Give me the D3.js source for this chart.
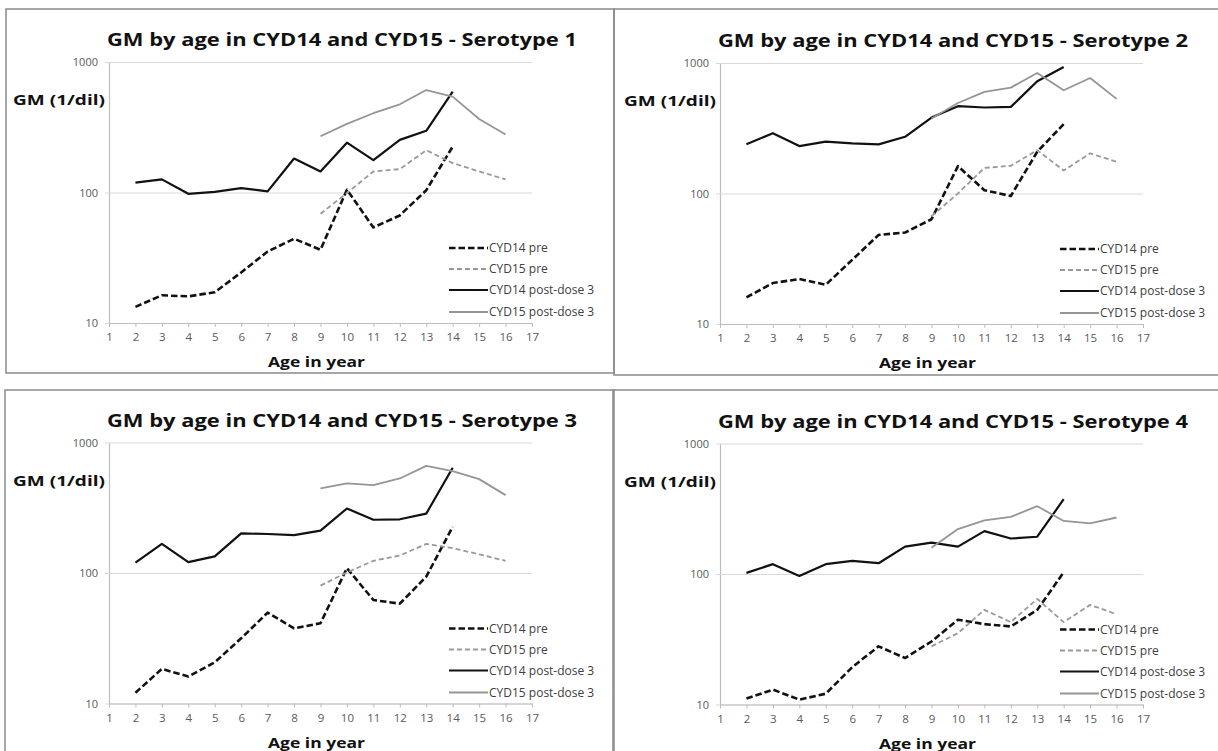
<!DOCTYPE html>
<html>
<head>
<meta charset="utf-8">
<script src="https://cdn.jsdelivr.net/npm/d3@7/dist/d3.min.js"></script>
<style>
  html, body { margin: 0; padding: 0; background: #fff; }
  svg { display: block; }
</style>
</head>
<body>
<svg id="chart" width="1218" height="751"></svg>
<script>
// ---------- DATA ----------
const titles = [
  "GM by age in CYD14 and CYD15 - Serotype 1",
  "GM by age in CYD14 and CYD15 - Serotype 2",
  "GM by age in CYD14 and CYD15 - Serotype 3",
  "GM by age in CYD14 and CYD15 - Serotype 4"
];
const yAxisTitle = "GM (1/dil)";
const xAxisTitle = "Age in year";
const seriesNames = ["CYD14 pre", "CYD15 pre", "CYD14 post-dose 3", "CYD15 post-dose 3"];
const xTicks = [1,2,3,4,5,6,7,8,9,10,11,12,13,14,15,16,17];
const yTicks = [10, 100, 1000];
const agesCYD14 = [2,3,4,5,6,7,8,9,10,11,12,13,14];
const agesCYD15 = [9,10,11,12,13,14,15,16];

const s1_cyd14pre  = [13.3,16.3,16,17.2,24.4,35.3,44.2,36.4,105,54,66.7,104,225];
const s1_cyd15pre  = [68.7,99,145,151,211,168,145,126];
const s1_cyd14post = [119,126,97.7,101,108,102,182,145,241,177,253,297,593];
const s1_cyd15post = [270,336,405,474,610,543,366,278];

const s2_cyd14pre  = [16,20.6,22.1,20,31,48.2,50.2,63.5,162,106,95.7,209,340];
const s2_cyd15pre  = [67,100,157,163,215,150,203,175];
const s2_cyd14post = [238,290,231,250,242,238,272,382,467,456,461,724,931];
const s2_cyd15post = [376,494,600,648,839,618,768,531];

const s3_cyd14pre  = [12.1,18.4,16.1,20.7,31.6,49.7,37.7,41.2,109,62.1,58.2,93.7,226];
const s3_cyd15pre  = [80,101,124,136,167,155,139,124];
const s3_cyd14post = [120,167,121,134,201,199,195,211,312,256,258,285,640];
const s3_cyd15post = [445,486,471,530,662,604,524,395];

const s4_cyd14pre  = [11.1,13,10.9,12.1,19.3,27.9,22.7,30.4,44.6,41.3,39.6,53.1,103];
const s4_cyd15pre  = [27.9,35.2,53.1,42.8,64.4,42.8,58,49.2];
const s4_cyd14post = [102,119,96.6,119,126,121,162,174,162,213,187,193,374];
const s4_cyd15post = [159,221,258,274,331,255,244,271];

const panelData = [
  [s1_cyd14pre, s1_cyd15pre, s1_cyd14post, s1_cyd15post],
  [s2_cyd14pre, s2_cyd15pre, s2_cyd14post, s2_cyd15post],
  [s3_cyd14pre, s3_cyd15pre, s3_cyd14post, s3_cyd15post],
  [s4_cyd14pre, s4_cyd15pre, s4_cyd14post, s4_cyd15post]
];
const seriesAges = [agesCYD14, agesCYD15, agesCYD14, agesCYD15];

// ---------- LAYOUT / STYLE ----------
const panels = [
  {ox: 0,   oy: 0,     bx: 6,   by: 9,   bw: 608, bh: 364},
  {ox: 611, oy: 1,     bx: 614, by: 9,   bw: 620, bh: 366},
  {ox: 0,   oy: 380.5, bx: 5,   by: 390, bw: 609, bh: 380},
  {ox: 611, oy: 381.5, bx: 613, by: 390, bw: 620, bh: 380}
];
const styles = [
  {color: "#111", width: 2.6, dash: "6.5,3"},
  {color: "#999", width: 1.8, dash: "5,3"},
  {color: "#111", width: 2.2, dash: null},
  {color: "#959595", width: 1.8, dash: null}
];
const FONT = "'Open Sans', 'Liberation Sans', sans-serif";

const svg = d3.select("#chart");

function fitText(sel, target) {
  const w = sel.node().getComputedTextLength();
  if (w > 0) sel.attr("textLength", target).attr("lengthAdjust", "spacingAndGlyphs");
}

panels.forEach((p, i) => {
  const g = svg.append("g");
  // panel border
  g.append("rect")
    .attr("x", p.bx).attr("y", p.by).attr("width", p.bw).attr("height", p.bh)
    .attr("fill", "none").attr("stroke", "#8a8a8a").attr("stroke-width", 1.5);

  const x = d3.scaleLinear().domain([1, 17]).range([109 + p.ox, 532 + p.ox]);
  const y = d3.scaleLog().domain([10, 1000]).range([323 + p.oy, 62 + p.oy]);
  const plotW = x(17) - x(1);

  // y axis with gridlines
  const ya = g.append("g")
    .attr("transform", `translate(${x(1)},0)`)
    .call(d3.axisLeft(y).tickValues(yTicks).tickFormat(d3.format("d"))
      .tickSize(-plotW).tickSizeOuter(0).tickPadding(11));
  ya.select(".domain").attr("stroke", "#bdbdbd").attr("stroke-width", 1.2);
  ya.selectAll(".tick line").attr("stroke", "#d9d9d9").attr("stroke-width", 1.2).attr("x1", -4);
  ya.selectAll(".tick text").attr("fill", "#595959").style("font-family", FONT).style("font-size", "11px");

  // x axis
  const xa = g.append("g")
    .attr("transform", `translate(0,${y(10)})`)
    .call(d3.axisBottom(x).tickValues(xTicks).tickFormat(d3.format("d"))
      .tickSize(4).tickSizeOuter(0).tickPadding(6));
  xa.select(".domain").attr("stroke", "#bdbdbd").attr("stroke-width", 1.2);
  xa.selectAll(".tick line").attr("stroke", "#bdbdbd").attr("stroke-width", 1);
  xa.selectAll(".tick text").attr("fill", "#595959").style("font-family", FONT).style("font-size", "11.5px");

  // series lines
  const line = d3.line().x(d => x(d[0])).y(d => y(d[1]));
  panelData[i].forEach((vals, s) => {
    const pts = vals.map((v, k) => [seriesAges[s][k], v]);
    const st = styles[s];
    g.append("path")
      .datum(pts)
      .attr("d", line)
      .attr("fill", "none")
      .attr("stroke", st.color)
      .attr("stroke-width", st.width)
      .attr("stroke-linejoin", "round")
      .attr("stroke-dasharray", st.dash);
  });

  // title
  const t = g.append("text")
    .attr("x", 107 + p.ox).attr("y", 46 + p.oy)
    .attr("fill", "#111")
    .style("font-family", FONT).style("font-weight", "bold").style("font-size", "18.5px")
    .text(titles[i]);
  fitText(t, 470);

  // y axis title
  const yt = g.append("text")
    .attr("x", 13 + p.ox).attr("y", 105 + p.oy)
    .attr("fill", "#111")
    .style("font-family", FONT).style("font-weight", "bold").style("font-size", "15px")
    .text(yAxisTitle);
  fitText(yt, 92);

  // x axis title
  const xt = g.append("text")
    .attr("x", 268 + p.ox).attr("y", 367 + p.oy)
    .attr("fill", "#111")
    .style("font-family", FONT).style("font-weight", "bold").style("font-size", "15px")
    .text(xAxisTitle);
  fitText(xt, 97);

  // legend
  const legOffsets = [-75, -54, -33, -11];
  seriesNames.forEach((name, s) => {
    const ly = y(10) + legOffsets[s];
    const st = styles[s];
    g.append("line")
      .attr("x1", 449 + p.ox).attr("x2", 488 + p.ox)
      .attr("y1", ly).attr("y2", ly)
      .attr("stroke", st.color).attr("stroke-width", st.width)
      .attr("stroke-dasharray", st.dash);
    g.append("text")
      .attr("x", 489 + p.ox).attr("y", ly + 4)
      .attr("fill", "#404040")
      .style("font-family", FONT).style("font-size", "12px")
      .text(name);
  });
});
</script>
</body>
</html>
